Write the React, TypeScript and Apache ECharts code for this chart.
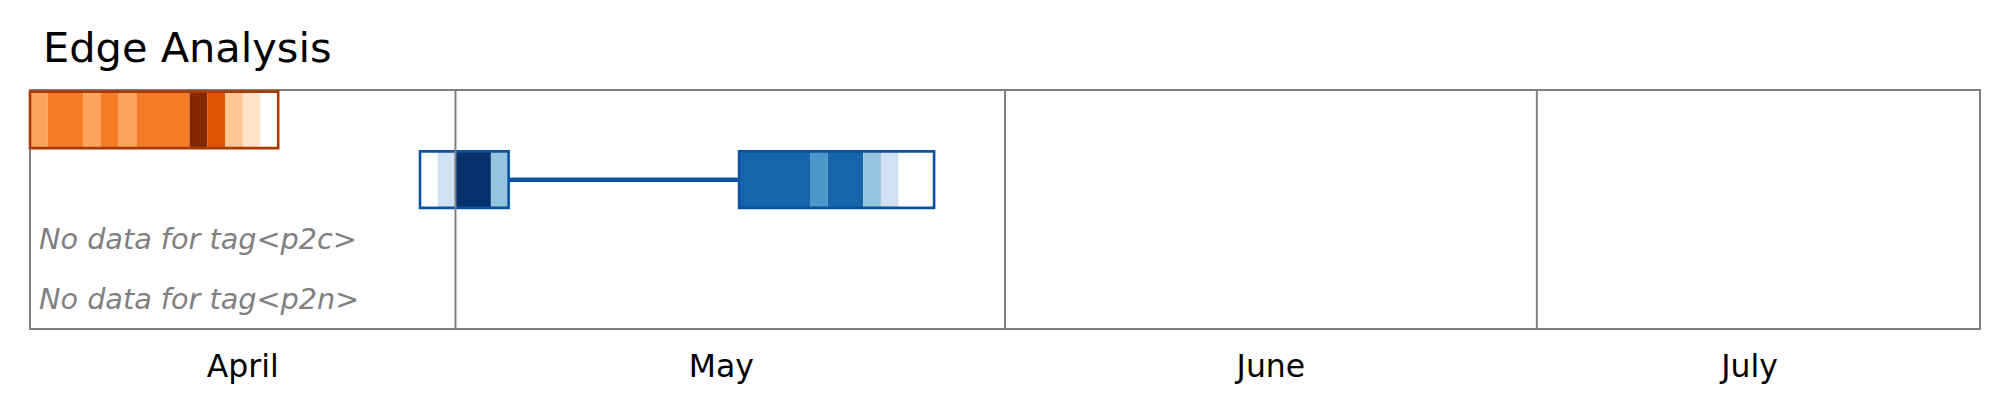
import React, { useEffect, useRef } from "react";
import * as echarts from "echarts";

// ---- data ----
const TITLE = "Edge Analysis";
const rowCount = 4;
const axisStart = [2024, 3, 7];
const axisEnd = [2024, 6, 26];
const monthNames = ["April", "May", "June", "July"];
const monthStarts = [
  [2024, 4, 1],
  [2024, 5, 1],
  [2024, 6, 1],
];
// [year, month, day, hour] where each month label sits
const monthLabelAt = [
  [2024, 3, 19, 0],
  [2024, 4, 16, 0],
  [2024, 5, 16, 0],
  [2024, 6, 13, 0],
];

// colour levels (0 = lightest)
const orangePalette = ["#ffffff", "#fee3c8", "#fdc692", "#fda35c", "#f67b27", "#e05206", "#842904"];
const bluePalette = ["#ffffff", "#d0e1f2", "#94c4df", "#4a98c9", "#1764ab", "#08306b"];

// row 0: one orange box
const orangeRow = 0;
const orangeStart = [2024, 3, 7];
const orangeLevels = [3, 4, 4, 3, 4, 3, 4, 4, 4, 6, 5, 2, 1, 0];

// row 1: two blue boxes joined by a line
const blueRow = 1;
const blueBox1Start = [2024, 3, 29];
const blueBox1Levels = [0, 1, 5, 5, 2];
const blueBox2Start = [2024, 4, 17];
const blueBox2Levels = [4, 4, 4, 4, 3, 4, 4, 2, 1, 0, 0];

const noDataRows = [2, 3];
const noDataTags = ["p2c", "p2n"];

// ---- helpers ----
const ts = (a: number[], addDays = 0) =>
  new Date(a[0], a[1], a[2] + addDays, a[3] || 0).getTime();

// consecutive days with the same level are drawn as one rectangle
function cells(start: number[], levels: number[], row: number) {
  const out: number[][] = [];
  let i = 0;
  while (i < levels.length) {
    let j = i;
    while (j + 1 < levels.length && levels[j + 1] === levels[i]) j++;
    out.push([ts(start, i), ts(start, j + 1), row, levels[i]]);
    i = j + 1;
  }
  return out;
}

const FONT = "DejaVu Sans";
const ORANGE_EDGE = "#a93a04";
const BLUE_EDGE = "#0b53a0";
const GRID_GRAY = "#808080";
const BAR_FRAC = 0.945;

export default function App() {
  const ref = useRef<HTMLDivElement>(null);

  useEffect(() => {
    document.body.style.margin = "0";
    if (!ref.current) return;
    const chart = echarts.init(ref.current, undefined, { renderer: "svg" });

    const cellRender = (palette: string[]) => (params: any, api: any) => {
      const s = api.value(0);
      const e = api.value(1);
      const r = api.value(2);
      const lv = api.value(3);
      const p1 = api.coord([s, r + 0.5]);
      const p2 = api.coord([e, r + 0.5]);
      const h = Math.abs(api.size([0, 1])[1]) * BAR_FRAC;
      return {
        type: "rect",
        shape: { x: p1[0], y: p1[1] - h / 2, width: p2[0] - p1[0], height: h },
        style: { fill: palette[lv] },
      };
    };

    const boxRender = (color: string) => (params: any, api: any) => {
      const s = api.value(0);
      const e = api.value(1);
      const r = api.value(2);
      const p1 = api.coord([s, r + 0.5]);
      const p2 = api.coord([e, r + 0.5]);
      const h = Math.abs(api.size([0, 1])[1]) * BAR_FRAC;
      return {
        type: "rect",
        shape: { x: p1[0], y: p1[1] - h / 2, width: p2[0] - p1[0], height: h },
        style: { fill: "none", stroke: color, lineWidth: 2.6 },
      };
    };

    const orangeCells = cells(orangeStart, orangeLevels, orangeRow);
    const blueCells = [
      ...cells(blueBox1Start, blueBox1Levels, blueRow),
      ...cells(blueBox2Start, blueBox2Levels, blueRow),
    ];
    const orangeBoxes = [[ts(orangeStart), ts(orangeStart, orangeLevels.length), orangeRow]];
    const blueBoxes = [
      [ts(blueBox1Start), ts(blueBox1Start, blueBox1Levels.length), blueRow],
      [ts(blueBox2Start), ts(blueBox2Start, blueBox2Levels.length), blueRow],
    ];
    const blueLinks = [[ts(blueBox1Start, blueBox1Levels.length), ts(blueBox2Start), blueRow]];

    chart.setOption({
      animation: false,
      title: {
        text: TITLE,
        left: 43,
        top: 26,
        padding: 0,
        textStyle: { fontSize: 41.5, fontWeight: "normal", fontFamily: FONT, color: "#000" },
      },
      grid: {
        left: 30,
        top: 90,
        width: 1950,
        height: 239,
        show: true,
        borderColor: GRID_GRAY,
        borderWidth: 2,
        backgroundColor: "transparent",
      },
      xAxis: {
        type: "time",
        min: ts(axisStart),
        max: ts(axisEnd),
        axisLine: { show: false },
        axisTick: { show: false },
        axisLabel: { show: false },
        splitLine: { show: false },
      },
      yAxis: {
        type: "value",
        min: 0,
        max: rowCount,
        inverse: true,
        show: false,
        splitLine: { show: false },
      },
      series: [
        {
          type: "custom",
          name: "links",
          data: blueLinks,
          encode: { x: [0, 1], y: 2 },
          z: 2,
          renderItem: (params: any, api: any) => {
            const p1 = api.coord([api.value(0), api.value(2) + 0.5]);
            const p2 = api.coord([api.value(1), api.value(2) + 0.5]);
            return {
              type: "line",
              shape: { x1: p1[0], y1: p1[1], x2: p2[0], y2: p2[1] },
              style: { stroke: BLUE_EDGE, lineWidth: 4.5 },
            };
          },
        },
        {
          type: "custom",
          name: "orange",
          data: orangeCells,
          encode: { x: [0, 1], y: 2 },
          z: 3,
          renderItem: cellRender(orangePalette),
        },
        {
          type: "custom",
          name: "blue",
          data: blueCells,
          encode: { x: [0, 1], y: 2 },
          z: 3,
          renderItem: cellRender(bluePalette),
        },
        {
          type: "custom",
          name: "orangeBox",
          data: orangeBoxes,
          encode: { x: [0, 1], y: 2 },
          z: 4,
          renderItem: boxRender(ORANGE_EDGE),
        },
        {
          type: "custom",
          name: "blueBox",
          data: blueBoxes,
          encode: { x: [0, 1], y: 2 },
          z: 4,
          renderItem: boxRender(BLUE_EDGE),
        },
        {
          type: "custom",
          name: "monthSep",
          data: monthStarts.map((m) => [ts(m)]),
          encode: { x: 0 },
          z: 6,
          renderItem: (params: any, api: any) => {
            const t = api.value(0);
            const a = api.coord([t, 0]);
            const b = api.coord([t, rowCount]);
            return {
              type: "line",
              shape: { x1: a[0], y1: a[1], x2: b[0], y2: b[1] },
              style: { stroke: GRID_GRAY, lineWidth: 2 },
            };
          },
        },
        {
          type: "custom",
          name: "monthLabels",
          data: monthLabelAt.map((m, i) => [ts(m), i]),
          encode: { x: 0 },
          z: 6,
          renderItem: (params: any, api: any) => {
            const p = api.coord([api.value(0), rowCount]);
            return {
              type: "text",
              x: p[0],
              y: p[1] + 37,
              style: {
                text: monthNames[params.dataIndex],
                fontSize: 31.5,
                fontFamily: FONT,
                fill: "#000",
                align: "center",
                verticalAlign: "middle",
              },
            };
          },
        },
        {
          type: "custom",
          name: "noData",
          data: noDataRows.map((r, i) => [ts(axisStart), r, i]),
          encode: { x: 0, y: 1 },
          z: 6,
          renderItem: (params: any, api: any) => {
            const p = api.coord([api.value(0), api.value(1) + 0.5]);
            return {
              type: "text",
              x: p[0] + 9,
              y: p[1] - 0.5,
              style: {
                text: "No data for tag<" + noDataTags[params.dataIndex] + ">",
                fontSize: 28.7,
                fontStyle: "italic",
                fontFamily: FONT,
                fill: GRID_GRAY,
                align: "left",
                verticalAlign: "middle",
              },
            };
          },
        },
      ],
    });

    return () => chart.dispose();
  }, []);

  return <div ref={ref} style={{ width: 2009, height: 414 }} />;
}
